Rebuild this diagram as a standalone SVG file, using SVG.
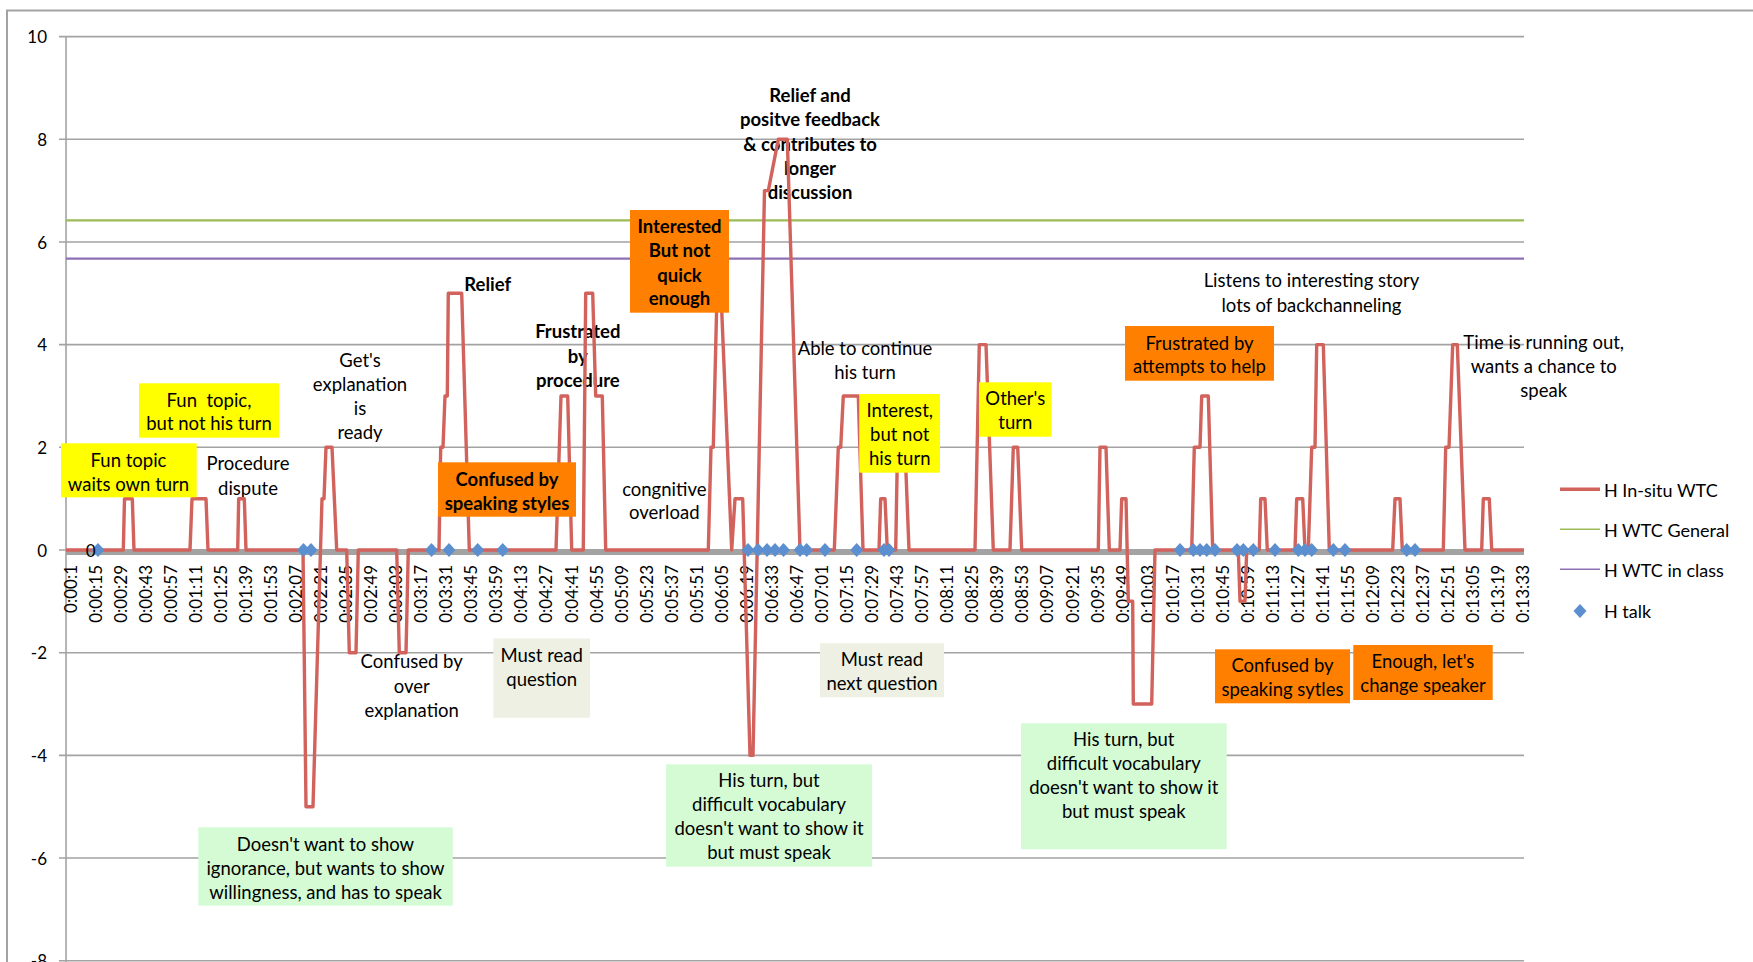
<svg xmlns="http://www.w3.org/2000/svg" width="1753" height="962" viewBox="0 0 1753 962">
  <defs>
    <style>
      text { font-family: Lato, "Liberation Sans", sans-serif; fill: #000; }
      .frame { stroke: #a3a3a3; stroke-width: 2; fill: none; }
      .grid { stroke: #a3a3a3; stroke-width: 1.6; fill: none; }
      .zero { stroke: #a3a3a3; stroke-width: 6; fill: none; }
      .ytick { font-size: 17px; text-anchor: end; dominant-baseline: central; }
      .xtick { font-size: 17px; text-anchor: end; dominant-baseline: central; }
      .note { font-size: 18.5px; text-anchor: middle; }
      .bold { font-weight: bold; }
      .legend { font-size: 18px; }
      .yellow { fill: #ffff00; }
      .orange { fill: #ff8000; }
      .green { fill: #d4fbd4; }
      .beige { fill: #edf0e2; }
      .insitu { stroke: #d2625c; stroke-width: 3.4; fill: none; stroke-linejoin: round; }
      .general { stroke: #9bbb59; stroke-width: 2.2; fill: none; }
      .inclass { stroke: #8d6fb4; stroke-width: 2.2; fill: none; }
    </style>
    <path id="diamond" d="M0,-7 L6.5,0 L0,7 L-6.5,0 Z" fill="#5b8fd0"/>
  </defs>

  <rect width="1753" height="962" fill="#ffffff"/>

  <!-- chart frame -->
  <g id="frame">
    <path class="frame" d="M7,962 V10.5 H1753"/>
  </g>

  <!-- value axis, gridlines and labels -->
  <g id="value-axis">
    <path class="grid" d="M59,36.6 H1524 M59,139.3 H1524 M59,242 H1524 M59,344.6 H1524 M59,447.3 H1524 M59,652.7 H1524 M59,755.4 H1524 M59,858 H1524 M59,960.7 H1524 M59,550 H66"/>
    <path class="grid" d="M66,36.6 V962"/>
    <text class="ytick" x="47" y="36.6">10</text>
    <text class="ytick" x="47" y="139.3">8</text>
    <text class="ytick" x="47" y="242">6</text>
    <text class="ytick" x="47" y="344.6">4</text>
    <text class="ytick" x="47" y="447.3">2</text>
    <text class="ytick" x="47" y="550">0</text>
    <text class="ytick" x="47" y="652.7">-2</text>
    <text class="ytick" x="47" y="755.4">-4</text>
    <text class="ytick" x="47" y="858">-6</text>
    <text class="ytick" x="47" y="960.7">-8</text>
  </g>

  <!-- category axis (time stamps) -->
  <g id="category-axis">
    <path class="zero" d="M66,552 H1524"/>
    <text class="xtick" transform="translate(70,565) rotate(-90)">0:00:1</text>
    <text class="xtick" transform="translate(95.05,565) rotate(-90)">0:00:15</text>
    <text class="xtick" transform="translate(120.1,565) rotate(-90)">0:00:29</text>
    <text class="xtick" transform="translate(145.15,565) rotate(-90)">0:00:43</text>
    <text class="xtick" transform="translate(170.2,565) rotate(-90)">0:00:57</text>
    <text class="xtick" transform="translate(195.25,565) rotate(-90)">0:01:11</text>
    <text class="xtick" transform="translate(220.3,565) rotate(-90)">0:01:25</text>
    <text class="xtick" transform="translate(245.35,565) rotate(-90)">0:01:39</text>
    <text class="xtick" transform="translate(270.4,565) rotate(-90)">0:01:53</text>
    <text class="xtick" transform="translate(295.45,565) rotate(-90)">0:02:07</text>
    <text class="xtick" transform="translate(320.5,565) rotate(-90)">0:02:21</text>
    <text class="xtick" transform="translate(345.55,565) rotate(-90)">0:02:35</text>
    <text class="xtick" transform="translate(370.6,565) rotate(-90)">0:02:49</text>
    <text class="xtick" transform="translate(395.65,565) rotate(-90)">0:03:03</text>
    <text class="xtick" transform="translate(420.7,565) rotate(-90)">0:03:17</text>
    <text class="xtick" transform="translate(445.75,565) rotate(-90)">0:03:31</text>
    <text class="xtick" transform="translate(470.8,565) rotate(-90)">0:03:45</text>
    <text class="xtick" transform="translate(495.85,565) rotate(-90)">0:03:59</text>
    <text class="xtick" transform="translate(520.9,565) rotate(-90)">0:04:13</text>
    <text class="xtick" transform="translate(545.95,565) rotate(-90)">0:04:27</text>
    <text class="xtick" transform="translate(571,565) rotate(-90)">0:04:41</text>
    <text class="xtick" transform="translate(596.05,565) rotate(-90)">0:04:55</text>
    <text class="xtick" transform="translate(621.1,565) rotate(-90)">0:05:09</text>
    <text class="xtick" transform="translate(646.15,565) rotate(-90)">0:05:23</text>
    <text class="xtick" transform="translate(671.2,565) rotate(-90)">0:05:37</text>
    <text class="xtick" transform="translate(696.25,565) rotate(-90)">0:05:51</text>
    <text class="xtick" transform="translate(721.3,565) rotate(-90)">0:06:05</text>
    <text class="xtick" transform="translate(746.35,565) rotate(-90)">0:06:19</text>
    <text class="xtick" transform="translate(771.4,565) rotate(-90)">0:06:33</text>
    <text class="xtick" transform="translate(796.45,565) rotate(-90)">0:06:47</text>
    <text class="xtick" transform="translate(821.5,565) rotate(-90)">0:07:01</text>
    <text class="xtick" transform="translate(846.55,565) rotate(-90)">0:07:15</text>
    <text class="xtick" transform="translate(871.6,565) rotate(-90)">0:07:29</text>
    <text class="xtick" transform="translate(896.65,565) rotate(-90)">0:07:43</text>
    <text class="xtick" transform="translate(921.7,565) rotate(-90)">0:07:57</text>
    <text class="xtick" transform="translate(946.75,565) rotate(-90)">0:08:11</text>
    <text class="xtick" transform="translate(971.8,565) rotate(-90)">0:08:25</text>
    <text class="xtick" transform="translate(996.85,565) rotate(-90)">0:08:39</text>
    <text class="xtick" transform="translate(1021.9,565) rotate(-90)">0:08:53</text>
    <text class="xtick" transform="translate(1046.95,565) rotate(-90)">0:09:07</text>
    <text class="xtick" transform="translate(1072,565) rotate(-90)">0:09:21</text>
    <text class="xtick" transform="translate(1097.05,565) rotate(-90)">0:09:35</text>
    <text class="xtick" transform="translate(1122.1,565) rotate(-90)">0:09:49</text>
    <text class="xtick" transform="translate(1147.15,565) rotate(-90)">0:10:03</text>
    <text class="xtick" transform="translate(1172.2,565) rotate(-90)">0:10:17</text>
    <text class="xtick" transform="translate(1197.25,565) rotate(-90)">0:10:31</text>
    <text class="xtick" transform="translate(1222.3,565) rotate(-90)">0:10:45</text>
    <text class="xtick" transform="translate(1247.35,565) rotate(-90)">0:10:59</text>
    <text class="xtick" transform="translate(1272.4,565) rotate(-90)">0:11:13</text>
    <text class="xtick" transform="translate(1297.45,565) rotate(-90)">0:11:27</text>
    <text class="xtick" transform="translate(1322.5,565) rotate(-90)">0:11:41</text>
    <text class="xtick" transform="translate(1347.55,565) rotate(-90)">0:11:55</text>
    <text class="xtick" transform="translate(1372.6,565) rotate(-90)">0:12:09</text>
    <text class="xtick" transform="translate(1397.65,565) rotate(-90)">0:12:23</text>
    <text class="xtick" transform="translate(1422.7,565) rotate(-90)">0:12:37</text>
    <text class="xtick" transform="translate(1447.75,565) rotate(-90)">0:12:51</text>
    <text class="xtick" transform="translate(1472.8,565) rotate(-90)">0:13:05</text>
    <text class="xtick" transform="translate(1497.85,565) rotate(-90)">0:13:19</text>
    <text class="xtick" transform="translate(1522.9,565) rotate(-90)">0:13:33</text>
  </g>

  <!-- reference levels -->
  <g id="series-general">
    <path class="general" d="M66,220.3 H1524"/>
  </g>
  <g id="series-inclass">
    <path class="inclass" d="M66,258.7 H1524"/>
  </g>

  <!-- free-standing comments -->
  <g id="note-procedure-dispute">
    <text class="note" x="248" y="470">Procedure</text>
    <text class="note" x="248" y="495">dispute</text>
  </g>
  <g id="note-explanation-ready">
    <text class="note" x="360" y="366.7">Get's</text>
    <text class="note" x="360" y="391">explanation</text>
    <text class="note" x="360" y="415">is</text>
    <text class="note" x="360" y="439">ready</text>
  </g>
  <g id="note-over-explanation">
    <text class="note" x="411.7" y="668.3">Confused by</text>
    <text class="note" x="411.7" y="692.7">over</text>
    <text class="note" x="411.7" y="716.7">explanation</text>
  </g>
  <g id="note-relief">
    <text class="note bold" x="487.7" y="291">Relief</text>
  </g>
  <g id="note-frustrated-procedure">
    <text class="note bold" x="577.8" y="338.3">Frustrated</text>
    <text class="note bold" x="577.8" y="362.7">by</text>
    <text class="note bold" x="577.8" y="386.7">procedure</text>
  </g>
  <g id="note-overload">
    <text class="note" x="664.3" y="495.7">congnitive</text>
    <text class="note" x="664.3" y="519.3">overload</text>
  </g>
  <g id="note-relief-feedback">
    <text class="note bold" x="810" y="101.7">Relief and</text>
    <text class="note bold" x="810" y="126">positve feedback</text>
    <text class="note bold" x="810" y="150.7">&amp; contributes to</text>
    <text class="note bold" x="810" y="175">longer</text>
    <text class="note bold" x="810" y="199">discussion</text>
  </g>
  <g id="note-continue-turn">
    <text class="note" x="865" y="355">Able to continue</text>
    <text class="note" x="865" y="379.3">his turn</text>
  </g>
  <g id="note-listens">
    <text class="note" x="1311.5" y="287.3">Listens to interesting story</text>
    <text class="note" x="1311.5" y="311.7">lots of backchanneling</text>
  </g>
  <g id="note-time-running-out">
    <text class="note" x="1543.7" y="349.3">Time is running out,</text>
    <text class="note" x="1543.7" y="372.7">wants a chance to</text>
    <text class="note" x="1543.7" y="396.7">speak</text>
  </g>

  <!-- H In-situ WTC -->
  <g id="series-insitu">
    <polyline class="insitu" points="66,550 123.3,550 124.5,498.7 132.3,498.7 134,550 190,550 192,498.7 206,498.7 208,550 237.7,550 238.7,498.7 244.3,498.7 246,550 303,550 306,806.7 313,806.7 322,498.7 324,498.7 326,447.3 332,447.3 336.7,550 346.7,550 349.3,652.7 356,652.7 358.3,550 396.7,550 399.3,652.7 406,652.7 408.3,550 439,550 440.7,447.3 443,447.3 445,396 447.3,396 448.3,293.3 461.7,293.3 469.3,550 556,550 561,396 567.7,396 571.7,550 583.3,550 585.7,293.3 592.7,293.3 595.7,396 602.3,396 605.7,550 708.3,550 711,447.3 713.3,447.3 717,293.3 721,293.3 731.7,550 735,498.7 742.7,498.7 750,755.4 753,755.4 764.5,190.6 768.3,190.6 778.3,139.3 787.3,139.3 800,550 834.3,550 838.3,447.3 840.7,447.3 843.3,396 858.3,396 863,550 879,550 880.7,498.7 885,498.7 887.3,550 895.7,550 897.5,447.3 905,447.3 909,550 975,550 979.3,344.6 986,344.6 993.3,550 1010,550 1013.3,447.3 1017.7,447.3 1021.7,550 1098.3,550 1100,447.3 1106,447.3 1109.3,550 1120,550 1121.7,498.7 1126,498.7 1128.3,601.3 1132.7,601.3 1133.3,704 1151.7,704 1155,550 1191.7,550 1194.3,447.3 1200,447.3 1201.7,396 1208.3,396 1212.7,550 1238.3,550 1240,601.3 1245,601.3 1246.7,550 1259.3,550 1260.7,498.7 1265,498.7 1267.3,550 1295,550 1296.7,498.7 1302.7,498.7 1305,550 1308.3,550 1311.7,447.3 1315,447.3 1316.7,344.6 1323.3,344.6 1329.3,550 1392.7,550 1395,498.7 1400,498.7 1402.3,550 1443.3,550 1445.7,447.3 1449,447.3 1452.7,344.6 1457.3,344.6 1465,550 1481.7,550 1483.3,498.7 1489.3,498.7 1491.7,550 1524,550"/>
  </g>

  <!-- H talk markers -->
  <g id="series-talk">
    <use href="#diamond" x="98" y="550"/>
    <use href="#diamond" x="303.5" y="550"/>
    <use href="#diamond" x="311" y="550"/>
    <use href="#diamond" x="431.5" y="550"/>
    <use href="#diamond" x="449" y="550"/>
    <use href="#diamond" x="477.7" y="550"/>
    <use href="#diamond" x="502.7" y="550"/>
    <use href="#diamond" x="748" y="550"/>
    <use href="#diamond" x="758" y="550"/>
    <use href="#diamond" x="767" y="550"/>
    <use href="#diamond" x="775" y="550"/>
    <use href="#diamond" x="783.5" y="550"/>
    <use href="#diamond" x="800" y="550"/>
    <use href="#diamond" x="806.7" y="550"/>
    <use href="#diamond" x="825" y="550"/>
    <use href="#diamond" x="856.7" y="550"/>
    <use href="#diamond" x="884" y="550"/>
    <use href="#diamond" x="889" y="550"/>
    <use href="#diamond" x="1180" y="550"/>
    <use href="#diamond" x="1193.3" y="550"/>
    <use href="#diamond" x="1200" y="550"/>
    <use href="#diamond" x="1206.7" y="550"/>
    <use href="#diamond" x="1215" y="550"/>
    <use href="#diamond" x="1237" y="550"/>
    <use href="#diamond" x="1243.3" y="550"/>
    <use href="#diamond" x="1253.3" y="550"/>
    <use href="#diamond" x="1275" y="550"/>
    <use href="#diamond" x="1298.3" y="550"/>
    <use href="#diamond" x="1305" y="550"/>
    <use href="#diamond" x="1311.7" y="550"/>
    <use href="#diamond" x="1333.3" y="550"/>
    <use href="#diamond" x="1345" y="550"/>
    <use href="#diamond" x="1406.7" y="550"/>
    <use href="#diamond" x="1415" y="550"/>
    <text x="90.7" y="556.5" font-size="17" text-anchor="middle">0</text>
  </g>

  <!-- boxed comments -->
  <g id="note-fun-topic-waits">
    <rect class="yellow" x="61" y="443.3" width="135.7" height="54"/>
    <text class="note" x="128.5" y="466.7">Fun topic</text>
    <text class="note" x="128.5" y="490.7">waits own turn</text>
  </g>
  <g id="note-fun-topic-not-turn">
    <rect class="yellow" x="139" y="383.3" width="140" height="54.4"/>
    <text class="note" x="209" y="406.7">Fun&#160; topic,</text>
    <text class="note" x="209" y="430">but not his turn</text>
  </g>
  <g id="note-ignorance">
    <rect class="green" x="198.3" y="827.3" width="254.5" height="78.4"/>
    <text class="note" x="325.5" y="850.7">Doesn't want to show</text>
    <text class="note" x="325.5" y="875">ignorance, but wants to show</text>
    <text class="note" x="325.5" y="899.3">willingness, and has to speak</text>
  </g>
  <g id="note-confused-styles-1">
    <rect class="orange" x="438" y="462.3" width="138" height="54.4"/>
    <text class="note bold" x="507" y="485.7">Confused by</text>
    <text class="note bold" x="507" y="510">speaking styles</text>
  </g>
  <g id="note-read-question">
    <rect class="beige" x="493.3" y="638.5" width="96.7" height="79.2"/>
    <text class="note" x="541.7" y="661.7">Must read</text>
    <text class="note" x="541.7" y="686">question</text>
  </g>
  <g id="note-interested">
    <rect class="orange" x="630" y="210" width="99" height="102.7"/>
    <text class="note bold" x="679.5" y="233.3">Interested</text>
    <text class="note bold" x="679.5" y="257.3">But not</text>
    <text class="note bold" x="679.5" y="281.7">quick</text>
    <text class="note bold" x="679.5" y="305">enough</text>
  </g>
  <g id="note-vocabulary-1">
    <rect class="green" x="666" y="764.3" width="206" height="102.4"/>
    <text class="note" x="769" y="786.7">His turn, but</text>
    <text class="note" x="769" y="810.7">difficult vocabulary</text>
    <text class="note" x="769" y="835">doesn't want to show it</text>
    <text class="note" x="769" y="859">but must speak</text>
  </g>
  <g id="note-read-next">
    <rect class="beige" x="820" y="643.3" width="124" height="54"/>
    <text class="note" x="882" y="666">Must read</text>
    <text class="note" x="882" y="690">next question</text>
  </g>
  <g id="note-interest-not-turn">
    <rect class="yellow" x="859.3" y="394" width="80.7" height="78.7"/>
    <text class="note" x="899.7" y="416.7">Interest,</text>
    <text class="note" x="899.7" y="440.7">but not</text>
    <text class="note" x="899.7" y="465">his turn</text>
  </g>
  <g id="note-others-turn">
    <rect class="yellow" x="979" y="382.3" width="72.7" height="54.4"/>
    <text class="note" x="1015.3" y="405">Other's</text>
    <text class="note" x="1015.3" y="429">turn</text>
  </g>
  <g id="note-attempts-help">
    <rect class="orange" x="1125" y="326" width="149" height="54.7"/>
    <text class="note" x="1199.5" y="350">Frustrated by</text>
    <text class="note" x="1199.5" y="373.3">attempts to help</text>
  </g>
  <g id="note-vocabulary-2">
    <rect class="green" x="1021" y="723.3" width="205.7" height="126"/>
    <text class="note" x="1123.8" y="746">His turn, but</text>
    <text class="note" x="1123.8" y="770">difficult vocabulary</text>
    <text class="note" x="1123.8" y="794">doesn't want to show it</text>
    <text class="note" x="1123.8" y="818.3">but must speak</text>
  </g>
  <g id="note-confused-styles-2">
    <rect class="orange" x="1215" y="649.3" width="135" height="54"/>
    <text class="note" x="1282.5" y="671.7">Confused by</text>
    <text class="note" x="1282.5" y="696">speaking sytles</text>
  </g>
  <g id="note-change-speaker">
    <rect class="orange" x="1353.3" y="645" width="139.4" height="55"/>
    <text class="note" x="1423" y="668.3">Enough, let's</text>
    <text class="note" x="1423" y="691.7">change speaker</text>
  </g>

  <!-- legend -->
  <g id="legend">
    <path class="insitu" d="M1560,489.3 H1600"/>
    <text class="legend" x="1604" y="496.7">H In-situ WTC</text>
    <path stroke="#9bbb59" stroke-width="1.5" d="M1560,529.3 H1600"/>
    <text class="legend" x="1604" y="537.3">H WTC General</text>
    <path stroke="#8d6fb4" stroke-width="1.5" d="M1560,569.3 H1600"/>
    <text class="legend" x="1604" y="577.3">H WTC in class</text>
    <use href="#diamond" x="1580" y="611"/>
    <text class="legend" x="1604" y="617.7">H talk</text>
  </g>
</svg>
